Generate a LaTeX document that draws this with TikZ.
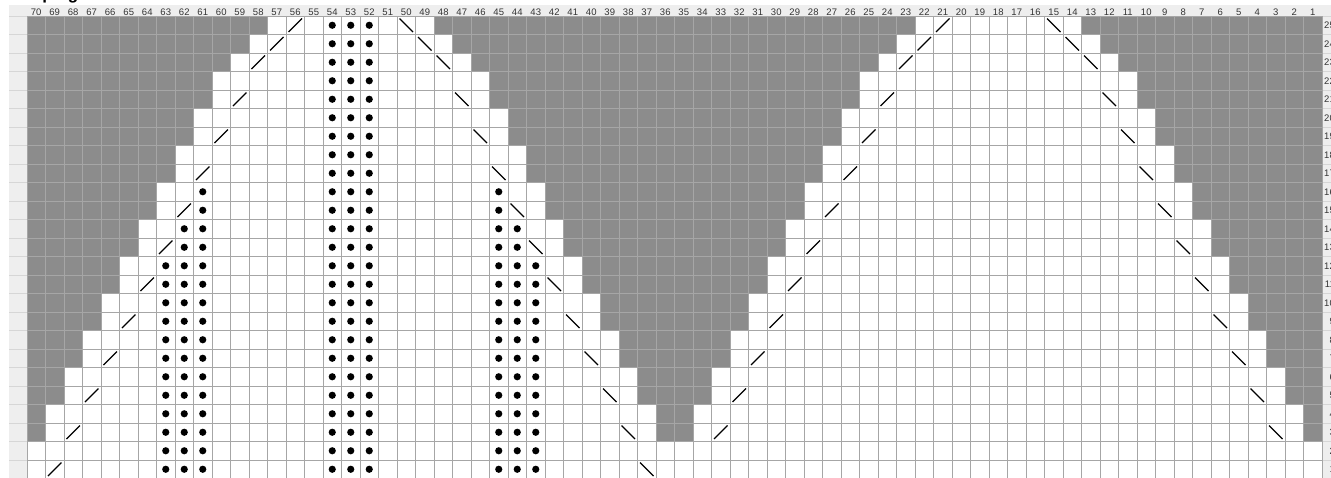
\documentclass[tikz,border=0pt]{standalone}
\usepackage{fontspec}
\setmainfont{Liberation Sans}
\definecolor{cellgray}{HTML}{8C8C8C}
\definecolor{gridcol}{HTML}{A6A6A6}
\definecolor{gridlight}{HTML}{D6D6D6}
\definecolor{hdrbg}{HTML}{EEEEEE}
\definecolor{lblcol}{HTML}{333333}
\begin{document}
\begin{tikzpicture}[x=1pt,y=-1pt,
  gridline/.style={draw=gridcol,line width=0.9pt},
  lightline/.style={draw=gridlight,line width=0.9pt},
  slashline/.style={draw=black,line width=1.3pt},
  stitchdot/.style={fill=black},
  collabel/.style={font=\fontsize{9.5}{10}\selectfont,text=lblcol,inner sep=0pt},
  rowlabel/.style={font=\fontsize{9.5}{10}\selectfont,text=lblcol,inner sep=0pt,anchor=east},
  titletext/.style={font=\bfseries\fontsize{17}{20}\selectfont,text=black,inner sep=0pt,anchor=south west}]
\useasboundingbox (0,0) rectangle (1331,477);
\clip (0,0) rectangle (1331,477);
% title (cut off at top of the picture)
\node[titletext] (title) at (11,3.5) {Shaping chart};
% header and label columns
\fill[hdrbg] (9,5) rectangle (1331,16);
\fill[hdrbg] (9,16) rectangle (27,478);
\fill[hdrbg] (1323,16) rectangle (1331,478);
\fill[white] (27,16) rectangle (1323,478.5);
% gray (no stitch) cells
\foreach \r in {1,...,25}{
  \pgfmathtruncatemacro\k{(\r>=22)?(22-\r):(floor((22-\r)/2))}
  \pgfmathsetmacro\yt{16+(25-\r)*18.5}
  \ifnum\k<10
    \fill[cellgray] (27,\yt) rectangle ({27+(10-\k)*18.5},\yt+18.5);
    \fill[cellgray] ({27+(25+\k)*18.5},\yt) rectangle ({27+(45-\k)*18.5},\yt+18.5);
    \fill[cellgray] ({27+(60+\k)*18.5},\yt) rectangle (1323,\yt+18.5);
  \fi
}
% grid lines
\foreach \i in {0,...,70}{
  \draw[gridline] ({27+\i*18.5},16) -- ({27+\i*18.5},478);
}
\foreach \j in {0,...,25}{
  \draw[gridline] (27,{16+\j*18.5}) -- (1323,{16+\j*18.5});
  \draw[lightline] (9,{16+\j*18.5}) -- (27,{16+\j*18.5});
  \draw[lightline] (1323,{16+\j*18.5}) -- (1331,{16+\j*18.5});
}
% column numbers
\foreach \c in {1,...,70}{
  \node[collabel] (h\c) at ({27+(70-\c)*18.5+9.25},12) {\c};
}
% row numbers (right, cut off)
\foreach \r in {1,...,25}{
  \node[rowlabel] (rl\r) at (1335,{16+(25-\r)*18.5+9.25}) {\r};
}
% right-leaning decreases  /
\foreach \c/\r in {56/25,57/24,58/23,59/21,60/19,61/17,62/15,63/13,64/11,65/9,66/7,67/5,68/3,69/1,
                   21/25,22/24,23/23,24/21,25/19,26/17,27/15,28/13,29/11,30/9,31/7,32/5,33/3}{
  \pgfmathsetmacro\xl{27+(70-\c)*18.5}
  \pgfmathsetmacro\yt{16+(25-\r)*18.5}
  \draw[slashline] (\xl+2.5,\yt+16) -- (\xl+16,\yt+2.5);
}
% left-leaning decreases  \
\foreach \c/\r in {50/25,49/24,48/23,47/21,46/19,45/17,44/15,43/13,42/11,41/9,40/7,39/5,38/3,37/1,
                   15/25,14/24,13/23,12/21,11/19,10/17,9/15,8/13,7/11,6/9,5/7,4/5,3/3}{
  \pgfmathsetmacro\xl{27+(70-\c)*18.5}
  \pgfmathsetmacro\yt{16+(25-\r)*18.5}
  \draw[slashline] (\xl+2.5,\yt+2.5) -- (\xl+16,\yt+16);
}
% purl dots
\foreach \c/\top in {54/25,53/25,52/25,61/16,62/14,63/12,45/16,44/14,43/12}{
  \foreach \r in {1,...,\top}{
    \pgfmathsetmacro\xl{27+(70-\c)*18.5}
    \pgfmathsetmacro\yt{16+(25-\r)*18.5}
    \fill[stitchdot] (\xl+9.25,\yt+9.25) circle (3.6);
  }
}
\end{tikzpicture}
\end{document}
